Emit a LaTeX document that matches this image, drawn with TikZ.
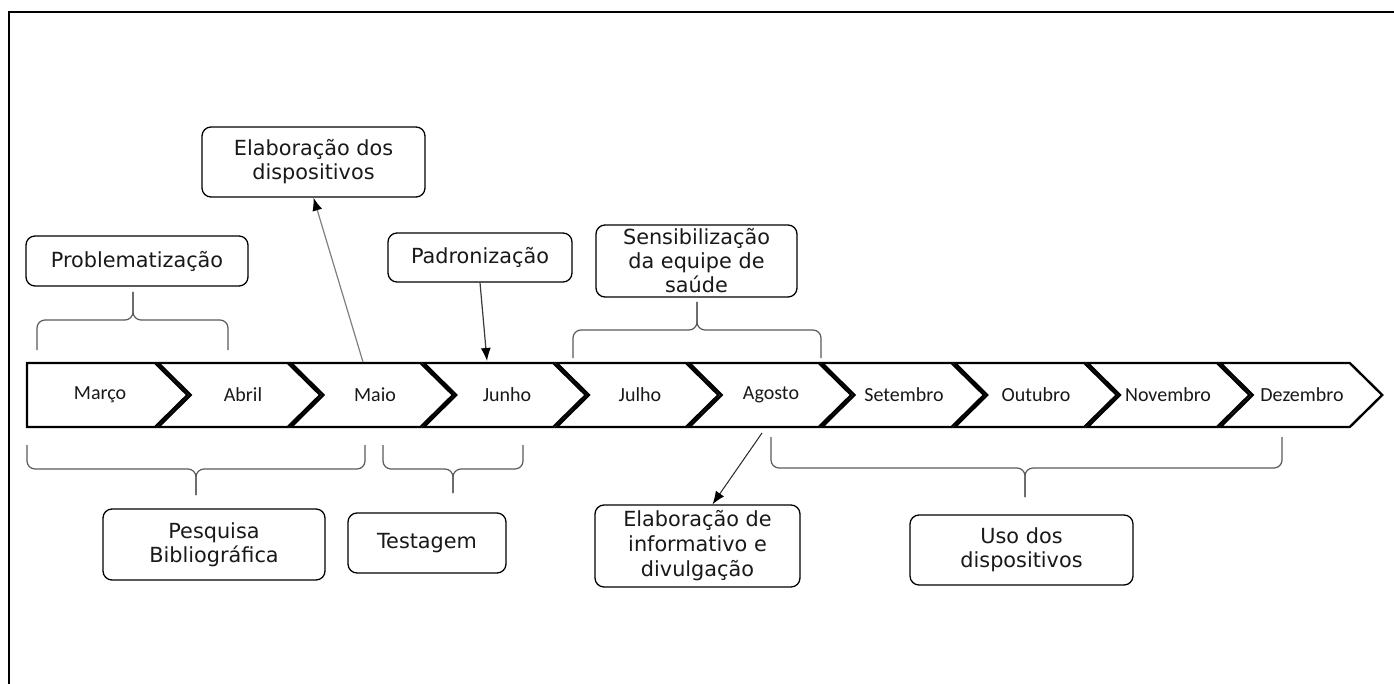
\documentclass[tikz,border=0pt]{standalone}
\usepackage{fontspec}
\setmainfont{DejaVu Sans}
\newfontfamily\monthfont{Carlito}
\usetikzlibrary{arrows.meta}
\definecolor{bracegray}{HTML}{5A5A5A}
\definecolor{arrgray}{HTML}{7F7F7F}
\definecolor{arrdark}{HTML}{3A3A3A}
\newcommand\tlbrace[6]{%
  \draw[brc] (#1,#4) -- (#1,#5) -- (#3,#5) -- (#3,#6);
  \draw[brc] (#2,#4) -- (#2,#5) -- (#3,#5) -- (#3,#6);}
\begin{document}
\begin{tikzpicture}[x=1pt,y=-1pt,
  box/.style={draw=black, line width=1.3pt, rounded corners=9pt, fill=white,
    align=center, inner sep=0pt, text=black!90,
    font=\fontsize{20.8}{24}\selectfont},
  chev/.style={draw=black, line width=2.4pt, fill=white, line join=miter},
  mlabel/.style={font=\monthfont\fontsize{20}{22}\selectfont, inner sep=0pt, text=black!90},
  brc/.style={draw=bracegray, line width=1.2pt, rounded corners=8pt},
  arr/.style={line width=1.2pt, -{Latex[length=13pt,width=10pt,color=black]}}]
\useasboundingbox (0,0) rectangle (1394,684);
\fill[white] (0,0) rectangle (1394,684);
% frame
\draw[line width=2pt] (1394,12) -- (9,12) -- (9,684);
% chevrons
\draw[chev] (27,363) -- (155,363) -- (187.5,395) -- (155,427) -- (27,427) -- cycle;
\foreach \i in {1,...,9}{
  \pgfmathsetmacro{\s}{25.5+132.75*\i}
  \draw[chev] (\s,363) -- (\s+129.5,363) -- (\s+162,395) -- (\s+129.5,427) -- (\s,427) -- (\s+32.5,395) -- cycle;
}
\node[mlabel] (mar) at (100,395) {Março};
\node[mlabel] (abr) at (243,395) {Abril};
\node[mlabel] (mai) at (375,395) {Maio};
\node[mlabel] (jun) at (507,395) {Junho};
\node[mlabel] (jul) at (640,395) {Julho};
\node[mlabel] (ago) at (771,395) {Agosto};
\node[mlabel] (set) at (904,395) {Setembro};
\node[mlabel] (out) at (1036,395) {Outubro};
\node[mlabel] (nov) at (1168,395) {Novembro};
\node[mlabel] (dez) at (1302,395) {Dezembro};
% boxes
\node[box, minimum width=222pt, minimum height=50pt] (prob) at (137,261) {Problematização};
\node[box, minimum width=223pt, minimum height=70pt] (elab) at (313.5,162) {Elaboração dos\\dispositivos};
\node[box, minimum width=184pt, minimum height=49pt] (padr) at (480,257.5) {Padronização};
\node[box, minimum width=201pt, minimum height=72pt] (sens) at (696.5,261) {Sensibilização\\da equipe de\\saúde};
\node[box, minimum width=222pt, minimum height=71pt] (pesq) at (214,544.5) {Pesquisa\\Bibliográfica};
\node[box, minimum width=158pt, minimum height=60pt] (test) at (427,543) {Testagem};
\node[box, minimum width=205pt, minimum height=82pt, font=\fontsize{20.8}{25}\selectfont] (info) at (697.5,546) {Elaboração de\\informativo e\\divulgação};
\node[box, minimum width=223pt, minimum height=70pt] (uso) at (1021.5,550) {Uso dos\\dispositivos};
% braces
\tlbrace{37}{228}{133}{350}{320}{292}
\tlbrace{573}{821}{697}{358}{330}{302}
\tlbrace{27}{365}{196}{445}{469}{495}
\tlbrace{383}{523}{453}{445}{469}{493}
\tlbrace{771}{1282}{1025}{437}{468}{497}
% arrows
\coordinate (maiTop) at (363,362);
\coordinate (junTop) at (487,361);
\coordinate (agoBot) at (762,433);
\draw[arr, draw=arrgray] (maiTop) -- (elab.south);
\draw[arr, draw=arrdark] (padr.south) -- (junTop);
\draw[arr, draw=black!85, line width=1pt] (agoBot) -- ([xshift=15pt]info.north);
\end{tikzpicture}
\end{document}
